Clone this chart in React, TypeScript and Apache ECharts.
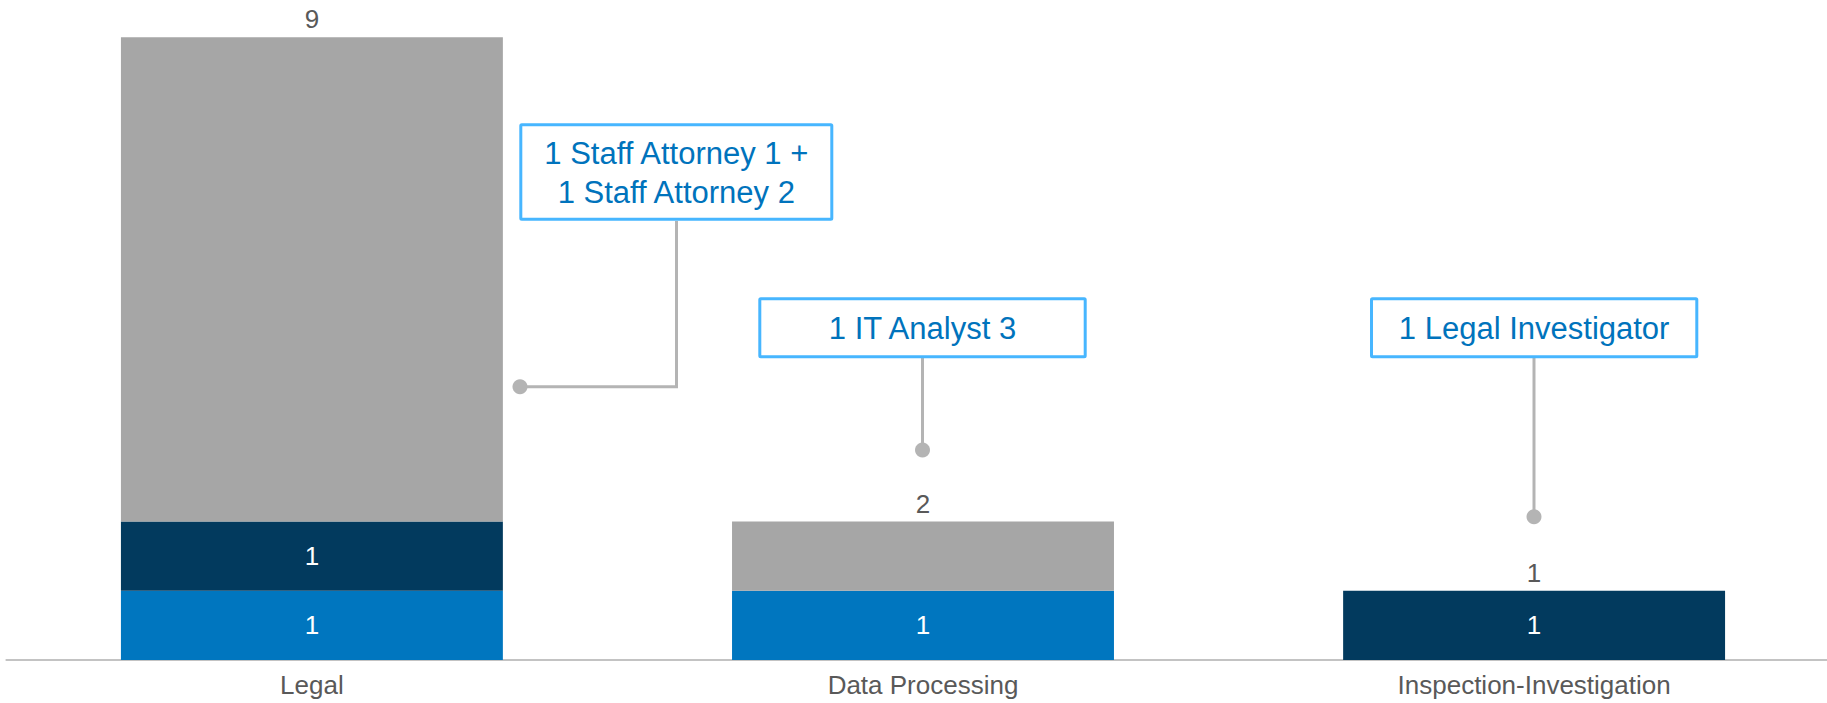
import React, { useEffect, useRef } from "react";
import * as echarts from "echarts";

const categories = ["Legal", "Data Processing", "Inspection-Investigation"];
const blueValues = [1, 1, 0];
const navyValues = [1, 0, 1];
const greyValues = [7, 1, 0];
const annotationTexts = [
  "1 Staff Attorney 1 +\n1 Staff Attorney 2",
  "1 IT Analyst 3",
  "1 Legal Investigator",
];

const FONT = '"Liberation Sans", Arial, Helvetica, sans-serif';
const BLUE = "#0076bf";
const NAVY = "#023a5e";
const GREY = "#a6a6a6";
const LABEL_GREY = "#595959";
const BOX_BORDER = "#47b6ff";
const BOX_TEXT = "#0073bc";
const CONN = "#b4b4b4";

export default function App() {
  const ref = useRef<HTMLDivElement>(null);
  useEffect(() => {
    if (!ref.current) return;
    const chart = echarts.init(ref.current, undefined, { renderer: "svg" });
    const totals = categories.map((_, i) => blueValues[i] + navyValues[i] + greyValues[i]);
    const inside = {
      show: true,
      position: "inside",
      color: "#ffffff",
      fontSize: 26,
      fontFamily: FONT,
      formatter: (p: any) => (p.value ? String(p.value) : ""),
    };
    const boxes = [
      { x: 519.3, y: 123.3, w: 314, h: 97.4, text: annotationTexts[0] },
      { x: 758.3, y: 297.3, w: 328.4, h: 61, text: annotationTexts[1] },
      { x: 1370, y: 297.3, w: 328.3, h: 61, text: annotationTexts[2] },
    ];
    const graphic: any[] = [];
    boxes.forEach((b) => {
      graphic.push({
        type: "rect",
        shape: { x: b.x + 1.5, y: b.y + 1.5, width: b.w - 3, height: b.h - 3, r: 1 },
        style: { fill: "#ffffff", stroke: BOX_BORDER, lineWidth: 3 },
        z: 10,
      });
      graphic.push({
        type: "text",
        style: {
          text: b.text,
          x: b.x + b.w / 2,
          y: b.y + b.h / 2 + 1,
          fill: BOX_TEXT,
          fontSize: 31,
          fontFamily: FONT,
          lineHeight: 39,
          align: "center",
          verticalAlign: "middle",
        },
        z: 11,
      });
    });
    const connStyle = { stroke: CONN, lineWidth: 3, fill: "none" };
    graphic.push({
      type: "polyline",
      shape: { points: [[676.5, 221], [676.5, 386.7], [520, 386.7]] },
      style: connStyle,
      z: 9,
    });
    graphic.push({ type: "circle", shape: { cx: 520, cy: 386.7, r: 7.5 }, style: { fill: CONN }, z: 9 });
    graphic.push({
      type: "line",
      shape: { x1: 922.5, y1: 358, x2: 922.5, y2: 450 },
      style: connStyle,
      z: 9,
    });
    graphic.push({ type: "circle", shape: { cx: 922.5, cy: 450, r: 7.5 }, style: { fill: CONN }, z: 9 });
    graphic.push({
      type: "line",
      shape: { x1: 1534, y1: 358, x2: 1534, y2: 516.7 },
      style: connStyle,
      z: 9,
    });
    graphic.push({ type: "circle", shape: { cx: 1534, cy: 516.7, r: 7.5 }, style: { fill: CONN }, z: 9 });

    chart.setOption({
      animation: false,
      backgroundColor: "#ffffff",
      grid: { left: 6.35, top: 37.3, width: 1833.3, height: 622.7, containLabel: false },
      xAxis: {
        type: "category",
        data: categories,
        axisLine: { show: true, lineStyle: { color: "#c3c3c3", width: 2 } },
        axisTick: { show: false },
        axisLabel: { color: LABEL_GREY, fontSize: 26, fontFamily: FONT, margin: 12 },
      },
      yAxis: { type: "value", min: 0, max: 9, show: false, splitLine: { show: false } },
      series: [
        { name: "blue", type: "bar", stack: "s", data: blueValues, barCategoryGap: "37.5%", itemStyle: { color: BLUE }, label: inside },
        { name: "navy", type: "bar", stack: "s", data: navyValues, itemStyle: { color: NAVY }, label: inside },
        { name: "grey", type: "bar", stack: "s", data: greyValues, itemStyle: { color: GREY }, label: { show: false } },
        {
          name: "total",
          type: "bar",
          stack: "s",
          data: categories.map(() => 0),
          itemStyle: { color: "transparent" },
          label: {
            show: true,
            position: "top",
            distance: 5,
            color: LABEL_GREY,
            fontSize: 26,
            fontFamily: FONT,
            formatter: (p: any) => String(totals[p.dataIndex]),
          },
        },
      ],
      graphic,
    });
    return () => chart.dispose();
  }, []);
  return (
    <div
      style={{ position: "fixed", left: 0, top: 0, width: 1827, height: 703, overflow: "hidden", background: "#fff" }}
    >
      <div ref={ref} style={{ width: 1840, height: 703 }} />
    </div>
  );
}
